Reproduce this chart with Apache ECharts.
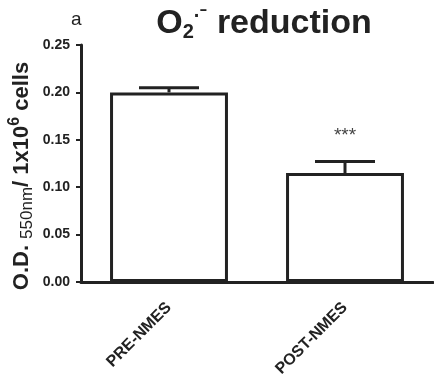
<!DOCTYPE html>
<html>
<head>
<meta charset="utf-8">
<script src="https://cdn.jsdelivr.net/npm/echarts@6/dist/echarts.min.js"></script>
<style>
  html, body { margin: 0; padding: 0; background: #fff; }
  #main { width: 434px; height: 381px; }
</style>
</head>
<body>
<div id="main"></div>
<script>
// 数据
var categories = ['PRE-NMES', 'POST-NMES'];
var means = [0.200, 0.115];
var errors = [0.005, 0.012];
var marks = ['', '***'];

var FONT = 'Liberation Sans, Arial, sans-serif';
var INK = '#222';
var myChart = echarts.init(document.getElementById('main'));

myChart.setOption({
  animation: false,
  backgroundColor: '#fff',
  title: [
    {
      text: '{m|O}{sub|2}{sup|·⁻}{m| reduction}',
      left: 259,
      top: -2,
      textAlign: 'center',
      textStyle: {
        rich: {
          m: { fontFamily: FONT, fontSize: 34, fontWeight: 'bold', color: INK, lineHeight: 42 },
          sub: { fontFamily: FONT, fontSize: 20, fontWeight: 'bold', color: INK, padding: [16, 0, 0, 0] },
          sup: { fontFamily: FONT, fontSize: 20, fontWeight: 'bold', color: INK, padding: [0, 0, 16, 0] }
        }
      }
    },
    {
      text: 'a',
      left: 66,
      top: 5,
      textStyle: { fontFamily: FONT, fontSize: 19, fontWeight: 'normal', color: INK }
    }
  ],
  graphic: [
    {
      type: 'text',
      x: 22,
      y: 176,
      rotation: Math.PI / 2,
      style: {
        text: '{b|O.D. }{s|550nm}{b|/ 1x10}{p|6}{b| cells}',
        align: 'center',
        verticalAlign: 'middle',
        rich: {
          b: { fontFamily: FONT, fontSize: 22, fontWeight: 'bold', fill: INK, lineHeight: 26 },
          s: { fontFamily: FONT, fontSize: 17, fill: INK, padding: [10, 0, 0, 0] },
          p: { fontFamily: FONT, fontSize: 16, fontWeight: 'bold', fill: INK, padding: [0, 0, 14, 0] }
        }
      }
    }
  ],
  grid: { left: 81, right: 1, top: 45, bottom: 99 },
  xAxis: {
    type: 'category',
    data: categories,
    axisLine: { lineStyle: { color: INK, width: 3 } },
    axisTick: { alignWithLabel: true, length: 5, lineStyle: { color: INK, width: 2 } },
    axisLabel: {
      rotate: 45,
      margin: 23,
      color: INK,
      fontFamily: FONT,
      fontSize: 16,
      fontWeight: 'bold'
    }
  },
  yAxis: {
    type: 'value',
    min: 0,
    max: 0.25,
    interval: 0.05,
    splitLine: { show: false },
    axisLine: { show: true, lineStyle: { color: INK, width: 3 } },
    axisTick: { show: true, length: 5, lineStyle: { color: INK, width: 2 } },
    axisLabel: {
      color: INK,
      fontFamily: FONT,
      fontSize: 14,
      fontWeight: 'bold',
      margin: 11,
      formatter: function (v) { return v.toFixed(2); }
    }
  },
  series: [
    {
      type: 'bar',
      data: means,
      barWidth: '67%',
      itemStyle: { color: '#fff', borderColor: INK, borderWidth: 3 },
      z: 2
    },
    {
      type: 'custom',
      z: 3,
      data: means.map(function (m, i) { return [i, m, errors[i]]; }),
      renderItem: function (params, api) {
        var i = api.value(0);
        var top = api.coord([i, api.value(1) + api.value(2)]);
        var base = api.coord([i, api.value(1)]);
        var half = 30;
        var children = [
          { type: 'line', shape: { x1: base[0], y1: base[1], x2: top[0], y2: top[1] }, style: { stroke: INK, lineWidth: 3 } },
          { type: 'line', shape: { x1: top[0] - half, y1: top[1], x2: top[0] + half, y2: top[1] }, style: { stroke: INK, lineWidth: 3 } }
        ];
        var label = marks[params.dataIndex];
        if (label) {
          children.push({
            type: 'text',
            style: {
              x: top[0], y: top[1] - 26, text: label, align: 'center', verticalAlign: 'middle',
              fontFamily: FONT, fontSize: 19, fill: '#444'
            }
          });
        }
        return { type: 'group', children: children };
      }
    }
  ]
});
</script>
</body>
</html>
